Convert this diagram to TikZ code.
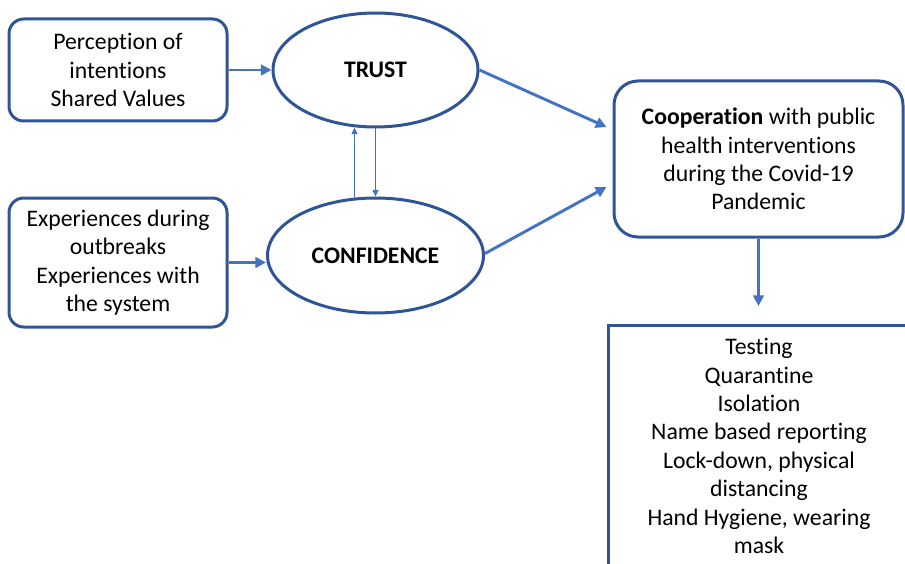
\documentclass[tikz,border=0pt]{standalone}
\usepackage{fontspec}
\setmainfont{Carlito}[Ligatures=NoCommon]
\usetikzlibrary{shapes.geometric,arrows.meta,calc}
\definecolor{bord}{HTML}{2F5597}
\definecolor{arr}{HTML}{4472C4}
\begin{document}
\begin{tikzpicture}[x=0.75pt,y=-0.75pt,
  every node/.style={font=\fontsize{17.8}{21.3}\selectfont, align=center, inner sep=0pt},
  rbox/.style={draw=bord, line width=2.25pt, rounded corners=11pt, fill=white},
  ell/.style={draw=bord, line width=2.25pt, ellipse, fill=white},
  flow/.style={draw=arr, line width=2.2pt, -{Triangle[length=8pt,width=8pt]}},
  thin/.style={draw=arr, line width=1pt, -{Triangle[length=5pt,width=4.5pt]}}]
\useasboundingbox (0,0) rectangle (905,563);
\clip (0,0) rectangle (905,563);
\node[rbox, minimum width=163.5pt, minimum height=76.5pt] (b1) at (118,70)
  {Perception of\\intentions\\Shared Values};
\node[rbox, minimum width=163.5pt, minimum height=96.75pt] (b2) at (118,262.5)
  {Experiences during\\outbreaks\\Experiences with\\the system};
\node[ell, minimum width=153.75pt, minimum height=85.5pt] (trust) at (375.5,70) {\textbf{TRUST}};
\node[ell, minimum width=162pt, minimum height=86.25pt] (conf) at (375.5,255.5) {\textbf{CONFIDENCE}};
\node[rbox, rounded corners=18pt, minimum width=216.75pt, minimum height=117pt] (coop) at (758.5,159)
  {\textbf{Cooperation} with public\\health interventions\\during the Covid-19\\Pandemic};
\node[draw=bord, line width=2.25pt, minimum width=226.5pt, minimum height=181.5pt] (res) at (759,446)
  {Testing\\Quarantine\\Isolation\\Name based reporting\\Lock-down, physical\\distancing\\Hand Hygiene, wearing\\mask};
\coordinate (tipc) at (761,306);
\draw[flow] (b1.east) -- (trust.west);
\draw[flow] (b2.east) -- (b2.east -| conf.west);
\draw[thin] ($(conf.north)+(-21,1)$) -- ($(trust.south)+(-21,-1)$);
\draw[thin] (trust.south) -- (conf.north);
\draw[flow] (trust.east) -- ($(coop.west)+(-6,-32)$);
\draw[flow] ($(conf.east)+(0,-2)$) -- ($(coop.west)+(-6,28)$);
\draw[flow] (coop.south) -- (coop.south |- tipc);
\end{tikzpicture}
\end{document}
